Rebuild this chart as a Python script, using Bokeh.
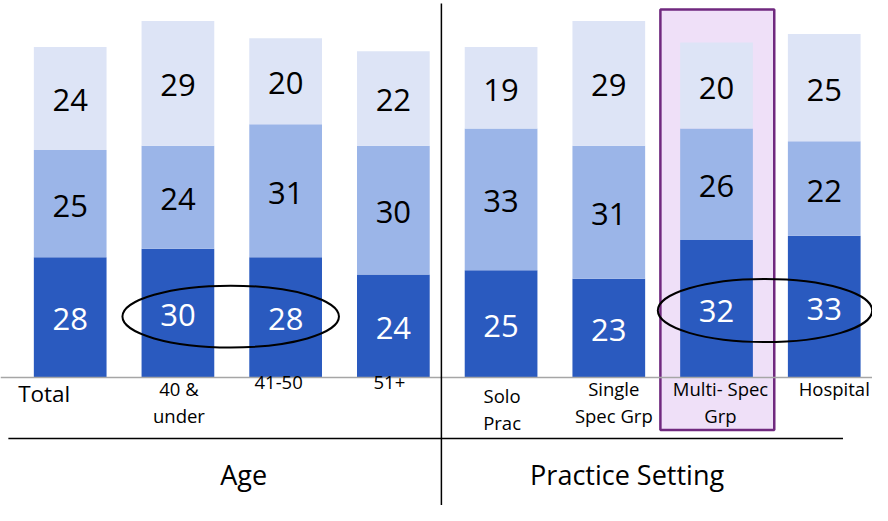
from bokeh.plotting import figure
from bokeh.models import ColumnDataSource, Range1d
from bokeh.core.properties import value
from bokeh.embed import file_html
from bokeh.resources import INLINE
import numpy as np

# ---- data ----
categories = ["Total", "40 &\nunder", "41-50", "51+", "Solo\nPrac",
              "Single\nSpec Grp", "Multi- Spec\nGrp", "Hospital"]
bottom_vals = [28, 30, 28, 24, 25, 23, 32, 33]
middle_vals = [25, 24, 31, 30, 33, 31, 26, 22]
top_vals = [24, 29, 20, 22, 19, 29, 20, 25]
groups = ["Age", "Practice Setting"]

# ---- styles / layout ----
DARK, MID, LIGHT = "#2A5ABF", "#9BB5E8", "#DDE4F6"
FONT = "Open Sans"

xs = np.arange(len(categories), dtype=float)
b = np.array(bottom_vals, dtype=float)
m = np.array(middle_vals, dtype=float)
t = np.array(top_vals, dtype=float)

W, H = 872, 505
p = figure(width=W, height=H, output_backend="svg", toolbar_location=None,
           x_range=Range1d(-0.647, 7.448),
           y_range=Range1d(-29.8, 87.8),
           min_border=0)
p.axis.visible = False
p.grid.visible = False
p.outline_line_color = None
p.background_fill_color = "white"
p.border_fill_color = "white"

# highlight box for Multi-Spec Grp
hi = 6
p.quad(left=[xs[hi] - 0.521], right=[xs[hi] + 0.536], bottom=[-12.2], top=[85.7],
       fill_color="#EFE0F8", line_color="#70297F", line_width=2.5)

src = ColumnDataSource(dict(x=xs, b=b, m=m, t=t))
p.vbar_stack(["b", "m", "t"], x="x", width=0.675, source=src,
             color=[DARK, MID, LIGHT], line_color=None)

# baseline
p.line(x=[-0.647, 7.448], y=[0, 0], line_color="#A6A6A6", line_width=1.5)

# value labels
lab_x = np.concatenate([xs, xs, xs])
lab_y = np.concatenate([b / 2, b + m / 2, b + m + t / 2])
lab_t = [str(int(v)) for v in np.concatenate([b, m, t])]
lab_c = ["white"] * len(xs) + ["black"] * (2 * len(xs))
p.text(x=lab_x, y=lab_y, text=lab_t, text_color=lab_c,
       text_font=value(FONT), text_font_size="31px",
       text_align="center", text_baseline="middle", y_offset=2)

# category labels
cat_x_off = [0, 1, -7, -4, 1, 5, 4, 10]
cat_y_off = [0, -2, -2, -2, 5, -2, -2, -2]
p.text(x=[-0.483], y=[0], text=[categories[0]], text_font=value(FONT),
       text_font_size="22.5px", text_align="left", text_baseline="top",
       text_color="black", y_offset=cat_y_off[0])
p.text(x=xs[1:], y=np.zeros(len(xs) - 1), text=categories[1:],
       text_font=value(FONT), text_font_size="18.5px", text_align="center",
       text_baseline="top", text_color="black", text_line_height=1.08,
       x_offset=cat_x_off[1:], y_offset=cat_y_off[1:])

# dividers
p.line(x=[3.446, 3.446], y=[-30, 87.1], line_color="black", line_width=1.5)
p.line(x=[-0.574, 7.174], y=[-14.2, -14.2], line_color="black", line_width=1.5)

# group labels
p.text(x=[1.61, 5.17], y=[-18.3, -18.3], text=groups, text_font=value(FONT),
       text_font_size="27px", text_align="center", text_baseline="top",
       text_color="black")

# ellipses
p.ellipse(x=[1.49, 6.45], y=[14.2, 15.6], width=[2.01, 1.99], height=[14.4, 14.7],
          fill_color=None, line_color="black", line_width=2)

open("out.html", "w").write(file_html(p, INLINE))
